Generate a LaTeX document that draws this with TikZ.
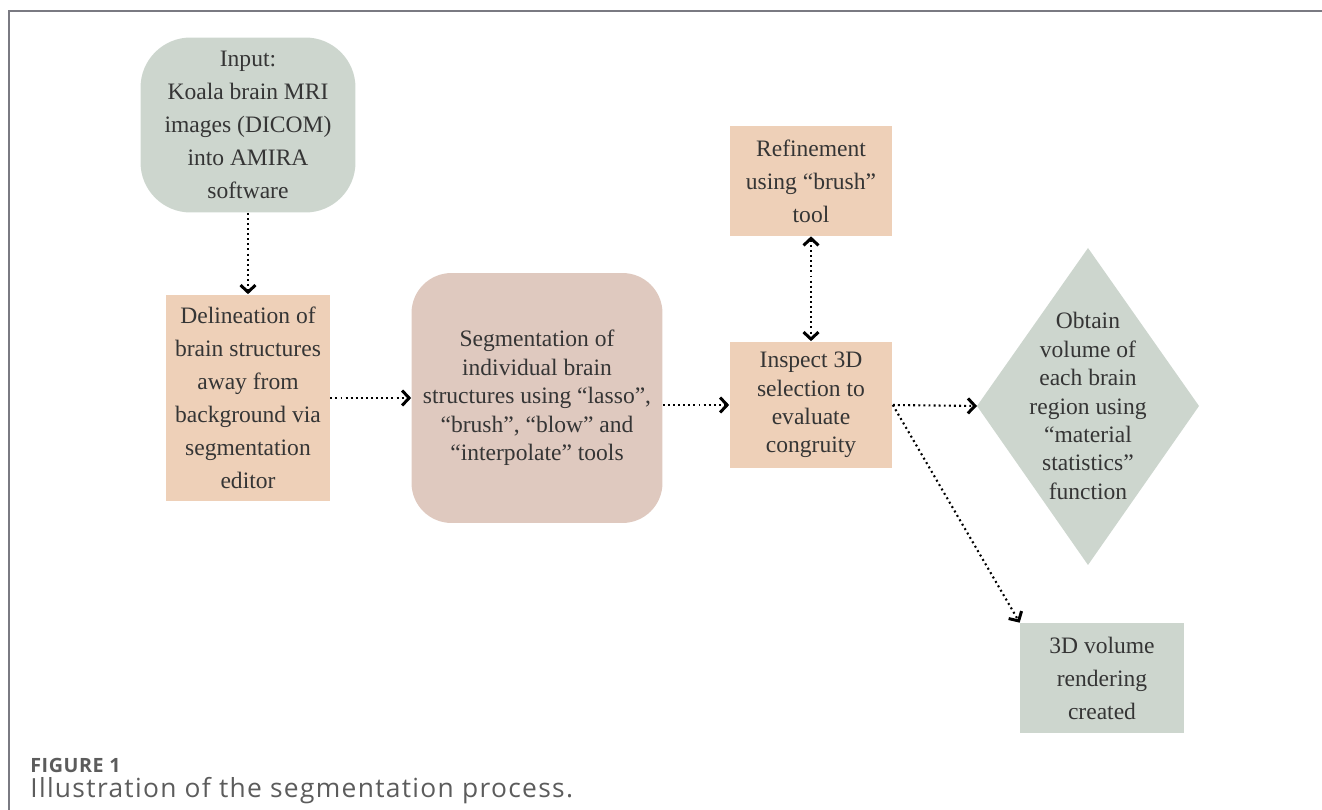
\documentclass[tikz,border=0pt]{standalone}
\usepackage{fontspec}
\setmainfont{Liberation Serif}
\newfontfamily\capfont[LetterSpace=5]{Open Sans}
\newfontfamily\figfont[LetterSpace=3]{Open Sans}
\usetikzlibrary{arrows.meta}
\definecolor{xanh}{HTML}{CDD6CE}
\definecolor{cam}{HTML}{EED0B8}
\definecolor{hong}{HTML}{DFC9BF}
\definecolor{chu}{HTML}{353535}
\definecolor{khung}{HTML}{7A7A82}
\definecolor{xam}{HTML}{5C5C5C}
\begin{document}
\begin{tikzpicture}[x=0.02cm,y=-0.02cm,
	mui/.tip={Straight Barb[length=4pt,width=8.5pt,line width=1.7pt]},
	hop/.style={text=chu,align=center,inner sep=0pt,font=\fontsize{13.4}{18.8}\selectfont},
	hep/.style={hop,font=\fontsize{13.4}{16.2}\selectfont},
	muiten/.style={line width=1.2pt,dash pattern=on 1.1pt off 1.8pt,-mui}]
	\useasboundingbox (0,0) rectangle (1322,810);
	\draw[khung,line width=0.9pt] (1322,11)--(9,11)--(9,810);
	\node[hop,fill=xanh,rounded corners=1cm,minimum width=4.3cm,minimum height=3.5cm] (A) at (248,125)
		{Input:\\Koala brain MRI\\images (DICOM)\\into AMIRA\\software};
	\node[hop,fill=cam,minimum width=3.28cm,minimum height=4.14cm] (B) at (248,398)
		{Delineation of\\brain structures\\away from\\background via\\segmentation\\editor};
	\node[hep,fill=hong,rounded corners=0.8cm,minimum width=5.02cm,minimum height=5cm] (C) at (537,398)
		{Segmentation of\\individual brain\\structures using ``lasso'',\\``brush'', ``blow'' and\\``interpolate'' tools};
	\node[hep,fill=cam,minimum width=3.26cm,minimum height=2.54cm] (D) at (811,405)
		{Inspect 3D\\selection to\\evaluate\\congruity};
	\node[hop,fill=cam,minimum width=3.26cm,minimum height=2.2cm] (R) at (811,181)
		{Refinement\\using ``brush''\\tool};
	\fill[xanh] (1088,248)--(1199,406)--(1088,565)--(977,406) coordinate (E_w)--cycle;
	\node[hep] (E) at (1088,406)
		{Obtain\\volume of\\each brain\\region using\\``material\\statistics''\\function};
	\node[hop,fill=xanh,minimum width=3.28cm,minimum height=2.2cm] (F) at (1102,678)
		{3D volume\\rendering\\created};
	\foreach \u/\v in {A.south/B.north, B.east/C.west, C.east|-D.west/D.west, D.east/E_w, D.east/F.north west}{
		\draw[muiten] (\u)--(\v);
	}
	\draw[muiten,mui-mui] (R.south)--(D.north);
	\node[anchor=base west,inner sep=0pt,text=xam,font=\figfont\bfseries\fontsize{11.2}{13}\selectfont] (fig) at (30,772) {FIGURE 1};
	\node[anchor=base west,inner sep=0pt,text=xam,font=\capfont\fontsize{15}{17}\selectfont] (cap) at (30,797) {Illustration of the segmentation process.};
\end{tikzpicture}
\end{document}
